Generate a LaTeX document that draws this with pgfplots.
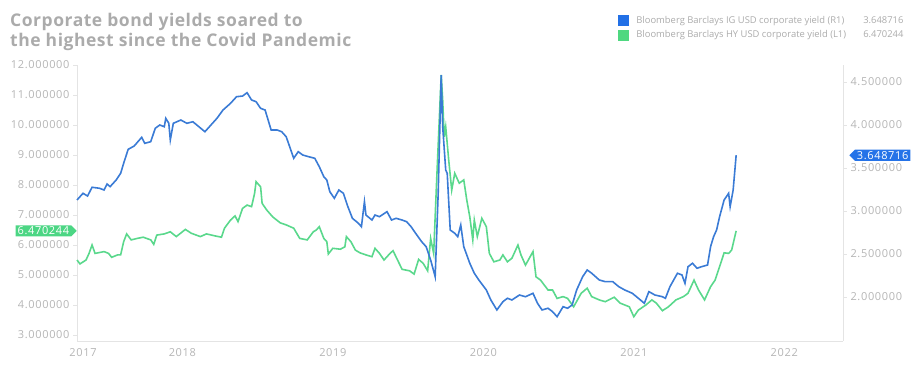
\documentclass[border=0pt]{standalone}
\usepackage{fontspec}
\setmainfont{Open Sans}
\usepackage{pgfplots}
\pgfplotsset{compat=1.18}
\usetikzlibrary{shapes.symbols}
\definecolor{igblue}{HTML}{3A7BD5}
\definecolor{hygreen}{HTML}{5AD88C}
\definecolor{igsq}{HTML}{2270E6}
\definecolor{hysq}{HTML}{4FD880}
\definecolor{igbadge}{HTML}{2573E8}
\definecolor{hybadge}{HTML}{4CD684}
\definecolor{txtgray}{HTML}{ABABAB}
\definecolor{ticgray}{HTML}{B5B5B5}
\definecolor{linegray}{HTML}{E4E4E4}
\newfontfamily\tickfont[LetterSpace=6]{Open Sans}
\newfontfamily\titlefont[LetterSpace=3]{Open Sans}
\pgfplotsset{
  common/.style={
    at={(77pt,31pt)}, anchor=south west, scale only axis,
    width=766pt, height=276pt,
    xmin=2017.30, xmax=2022.39,
    axis line style={linegray, line width=0.8pt},
    tick align=outside, major tick length=4pt,
    y tick style={linegray, line width=0.6pt},
    x tick style={draw=none},
    tick label style={font=\tickfont\fontsize{11}{13}\selectfont, text=ticgray},
    /pgf/number format/.cd, fixed, fixed zerofill, precision=6, assume math mode=true,
    /pgfplots/.cd,
    clip=false,
  }
}
\begin{document}
\begin{tikzpicture}[x=1pt,y=1pt]
\path[use as bounding box] (0,0) rectangle (920,372);
\node[anchor=base west, inner sep=0, font=\titlefont\fontsize{17.5}{20}\selectfont\bfseries, text=txtgray] at (10,345) {Corporate bond yields soared to};
\node[anchor=base west, inner sep=0, font=\titlefont\fontsize{17.5}{20}\selectfont\bfseries, text=txtgray] at (10,325.5) {the highest since the Covid Pandemic};

\begin{axis}[common,
  ymin=2.8, ymax=12,
  axis x line*=bottom, axis y line*=left,
  ytick={3,4,5,6,7,8,9,10,11,12},
  xtick={2017.34,2018,2019,2020,2021,2022},
  xticklabels={2017,2018,2019,2020,2021,2022},
  legend style={at={(0.706,1.185)}, anchor=north west, draw=none, fill=none,
    font=\fontsize{9.4}{11}\selectfont, text=txtgray, row sep=2pt, inner sep=0pt},
  legend cell align=left,
  legend image code/.code={\fill[#1] (0pt,-5pt) rectangle (10pt,5pt); \path (16pt,0pt);},
]
\addlegendimage{igsq}
\addlegendentry{\makebox[267pt][l]{Bloomberg Barclays IG USD corporate yield (R1)\hfill 3.648716}}
\addlegendimage{hysq}
\addlegendentry{\makebox[267pt][l]{Bloomberg Barclays HY USD corporate yield (L1)\hfill 6.470244}}
\addplot[hygreen, line width=1.6pt, forget plot] coordinates {
(2017.30,5.50)(2017.32,5.37)(2017.36,5.50)(2017.38,5.72)(2017.40,6.00)(2017.42,5.72)(2017.48,5.78)(2017.51,5.72)(2017.53,5.59)(2017.57,5.67)(2017.59,5.67)(2017.61,6.11)(2017.63,6.37)(2017.66,6.17)(2017.70,6.22)(2017.74,6.26)(2017.79,6.17)(2017.81,6.02)(2017.83,6.33)(2017.88,6.37)(2017.92,6.44)(2017.96,6.28)(2018.02,6.52)(2018.06,6.39)(2018.12,6.28)(2018.16,6.37)(2018.22,6.30)(2018.26,6.26)(2018.28,6.56)(2018.32,6.83)(2018.35,6.97)(2018.37,6.78)(2018.40,7.22)(2018.43,7.33)(2018.46,7.28)(2018.48,7.72)(2018.49,8.11)(2018.52,7.94)(2018.53,7.39)(2018.56,7.17)(2018.60,6.94)(2018.65,6.74)(2018.69,6.67)(2018.74,6.56)(2018.78,6.22)(2018.83,6.17)(2018.87,6.44)(2018.89,6.50)(2018.91,6.61)(2018.94,6.22)(2018.96,6.11)(2018.97,5.70)(2019.00,5.89)(2019.05,5.86)(2019.08,5.94)(2019.09,6.28)(2019.12,6.11)(2019.15,5.83)(2019.18,5.74)(2019.22,5.67)(2019.26,5.61)(2019.28,5.89)(2019.31,5.72)(2019.34,5.50)(2019.38,5.72)(2019.40,5.81)(2019.43,5.50)(2019.46,5.19)(2019.51,5.14)(2019.54,5.03)(2019.57,5.52)(2019.60,5.39)(2019.63,5.14)(2019.65,6.22)(2019.67,5.72)(2019.69,8.17)(2019.71,10.50)(2019.72,11.67)(2019.73,10.83)(2019.74,9.61)(2019.75,9.94)(2019.77,8.83)(2019.79,7.83)(2019.81,8.39)(2019.84,8.06)(2019.87,8.17)(2019.89,7.50)(2019.91,6.94)(2019.93,6.17)(2019.94,6.83)(2019.96,6.28)(2019.99,6.89)(2020.02,6.61)(2020.04,5.72)(2020.07,5.44)(2020.11,5.50)(2020.13,5.67)(2020.16,5.44)(2020.19,5.56)(2020.23,6.00)(2020.25,5.67)(2020.28,5.33)(2020.33,5.78)(2020.35,4.94)(2020.38,4.83)(2020.43,4.50)(2020.46,4.50)(2020.49,4.22)(2020.53,4.28)(2020.56,4.22)(2020.60,3.94)(2020.65,4.39)(2020.69,4.56)(2020.72,4.28)(2020.77,4.17)(2020.81,4.11)(2020.87,4.26)(2020.91,4.06)(2020.97,3.94)(2021.00,3.61)(2021.03,3.83)(2021.08,4.00)(2021.12,4.17)(2021.15,4.06)(2021.19,3.81)(2021.23,3.94)(2021.28,4.17)(2021.33,4.28)(2021.36,4.39)(2021.40,4.83)(2021.43,4.50)(2021.47,4.17)(2021.51,4.61)(2021.54,4.83)(2021.57,5.28)(2021.60,5.74)(2021.63,5.72)(2021.65,5.83)(2021.68,6.470244)
};
\node[signal, signal to=east, fill=hybadge, text=white, font=\tickfont\fontsize{11}{13}\selectfont, inner xsep=2pt, inner ysep=1.5pt, anchor=east] at (axis cs:2017.30,6.470244) {6.470244};
\end{axis}

\begin{axis}[common,
  ymin=1.488, ymax=4.698,
  axis x line=none, axis y line*=right,
  ytick={2,2.5,3,3.5,4,4.5},
]
\addplot[igblue, line width=1.6pt] coordinates {
(2017.30,3.128)(2017.34,3.206)(2017.37,3.174)(2017.40,3.276)(2017.45,3.264)(2017.48,3.244)(2017.50,3.314)(2017.52,3.283)(2017.56,3.360)(2017.59,3.438)(2017.61,3.555)(2017.64,3.717)(2017.68,3.756)(2017.73,3.857)(2017.75,3.787)(2017.79,3.806)(2017.82,3.962)(2017.85,4.000)(2017.88,3.980)(2017.89,4.078)(2017.91,4.020)(2017.92,3.826)(2017.94,4.020)(2017.99,4.058)(2018.03,4.020)(2018.07,4.038)(2018.11,3.980)(2018.15,3.922)(2018.19,4.000)(2018.23,4.078)(2018.27,4.174)(2018.32,4.252)(2018.36,4.329)(2018.40,4.337)(2018.43,4.376)(2018.46,4.291)(2018.49,4.271)(2018.52,4.194)(2018.55,4.174)(2018.59,3.942)(2018.63,3.942)(2018.66,3.922)(2018.69,3.864)(2018.74,3.613)(2018.77,3.690)(2018.80,3.651)(2018.84,3.631)(2018.88,3.613)(2018.91,3.515)(2018.94,3.399)(2018.96,3.360)(2018.98,3.224)(2019.01,3.148)(2019.04,3.244)(2019.07,3.206)(2019.10,3.050)(2019.13,2.915)(2019.17,2.857)(2019.19,2.817)(2019.21,3.108)(2019.22,2.953)(2019.26,2.895)(2019.28,2.953)(2019.31,2.934)(2019.36,2.992)(2019.39,2.895)(2019.42,2.915)(2019.46,2.895)(2019.49,2.876)(2019.52,2.817)(2019.55,2.741)(2019.59,2.643)(2019.62,2.585)(2019.65,2.430)(2019.68,2.236)(2019.70,3.206)(2019.72,4.581)(2019.73,3.980)(2019.75,3.477)(2019.76,3.438)(2019.78,2.779)(2019.81,2.741)(2019.83,2.701)(2019.85,2.837)(2019.87,2.585)(2019.91,2.392)(2019.94,2.276)(2019.97,2.198)(2020.02,2.081)(2020.05,1.965)(2020.09,1.849)(2020.13,1.945)(2020.16,1.985)(2020.19,1.965)(2020.24,2.023)(2020.28,2.003)(2020.33,2.043)(2020.36,1.927)(2020.39,1.849)(2020.43,1.869)(2020.46,1.829)(2020.49,1.771)(2020.53,1.887)(2020.56,1.869)(2020.59,1.907)(2020.62,2.081)(2020.66,2.236)(2020.69,2.314)(2020.72,2.276)(2020.77,2.198)(2020.81,2.178)(2020.86,2.178)(2020.90,2.120)(2020.94,2.081)(2020.99,2.043)(2021.03,1.985)(2021.07,1.927)(2021.10,2.062)(2021.14,2.023)(2021.19,2.003)(2021.21,1.985)(2021.24,2.120)(2021.29,2.276)(2021.32,2.256)(2021.34,2.159)(2021.36,2.352)(2021.39,2.392)(2021.42,2.334)(2021.45,2.352)(2021.49,2.372)(2021.51,2.585)(2021.53,2.701)(2021.55,2.779)(2021.57,2.934)(2021.60,3.128)(2021.63,3.206)(2021.64,3.050)(2021.66,3.244)(2021.68,3.648716)
};
\node[signal, signal to=west, fill=igbadge, text=white, font=\tickfont\fontsize{11}{13}\selectfont, inner xsep=2pt, inner ysep=1.5pt, anchor=west, xshift=6pt] at (axis cs:2022.39,3.648716) {3.648716};
\end{axis}
\end{tikzpicture}
\end{document}
